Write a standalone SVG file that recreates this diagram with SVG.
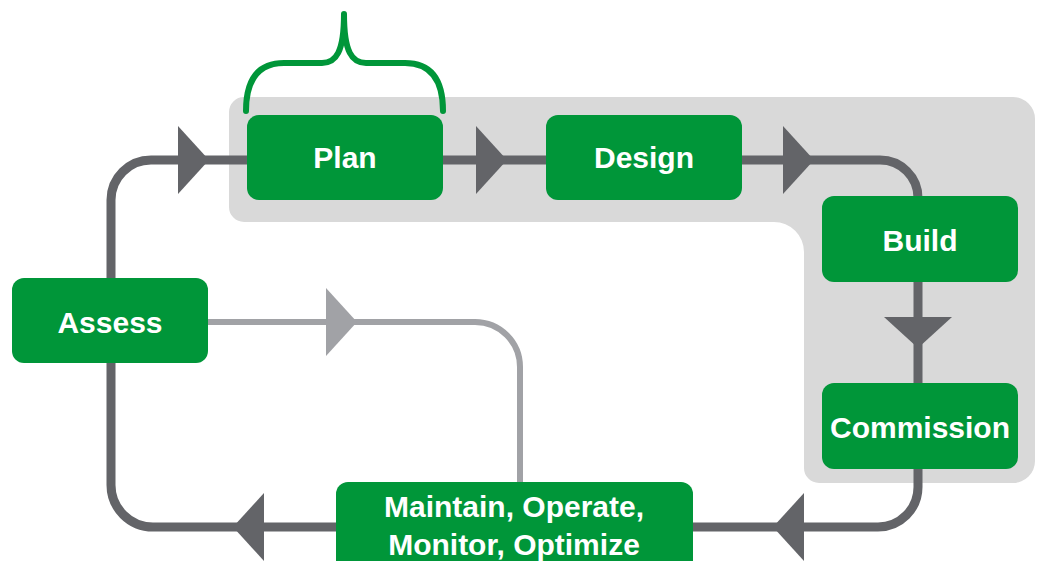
<svg xmlns="http://www.w3.org/2000/svg" width="1039" height="561" viewBox="0 0 1039 561">
  <style>
    .box { fill: #009639; }
    .lbl { font-family: "Liberation Sans", Arial, sans-serif; font-weight: bold; font-size: 30px; fill: #ffffff; text-anchor: middle; }
    .flow { fill: none; stroke: #636468; stroke-width: 9; }
    .flow-head { fill: #636468; }
    .loop { fill: none; stroke: #a1a2a6; stroke-width: 6; }
    .loop-head { fill: #a1a2a6; }
    .brace { fill: none; stroke: #009639; stroke-width: 6; stroke-linecap: round; stroke-linejoin: round; }
  </style>
  <defs>
    <!-- mid-line arrowhead, pointing right, tip at origin -->
    <polygon id="head" points="0,0 -31,-34 -31,34"/>
  </defs>

  <!-- shaded project-delivery area -->
  <path id="delivery-zone" fill="#d9d9d9" d="M244,97 H1013 A22,22 0 0 1 1035,119 V461 A22,22 0 0 1 1013,483 H819 A15,15 0 0 1 804,468 V252 A30,30 0 0 0 774,222 H244 A15,15 0 0 1 229,207 V112 A15,15 0 0 1 244,97 Z"/>

  <!-- brace over Plan -->
  <path class="brace" d="M246,111 C246,80 258,63 284,63 H322 C336,63 344,52 344,14 C344,52 352,63 366,63 H405 C431,63 443,80 443,111"/>

  <g id="connectors">
    <!-- Assess -> Plan -->
    <path class="flow" d="M111,278 V200 A40,40 0 0 1 151,160 H247"/>
    <use href="#head" class="flow-head" transform="translate(209,160)"/>
    <!-- Plan -> Design -->
    <path class="flow" d="M443,160 H546"/>
    <use href="#head" class="flow-head" transform="translate(507,160)"/>
    <!-- Design -> Build -->
    <path class="flow" d="M742,160 H880 A38,38 0 0 1 918,198 V196"/>
    <use href="#head" class="flow-head" transform="translate(814,160)"/>
    <!-- Build -> Commission -->
    <path class="flow" d="M918,282 V383"/>
    <use href="#head" class="flow-head" transform="translate(918,348) rotate(90)"/>
    <!-- Commission -> Maintain -->
    <path class="flow" d="M918,469 V487 A40,40 0 0 1 878,527 H693"/>
    <use href="#head" class="flow-head" transform="translate(773,527) rotate(180)"/>
    <!-- Maintain -> Assess -->
    <path class="flow" d="M336,527 H153 A42,42 0 0 1 111,485 V363"/>
    <use href="#head" class="flow-head" transform="translate(233,527) rotate(180)"/>
    <!-- Assess -> Maintain (feedback) -->
    <path class="loop" d="M208,322 H475 A45,45 0 0 1 520,367 V482"/>
    <use href="#head" class="loop-head" transform="translate(357,322)"/>
  </g>

  <g id="plan">
    <rect class="box" x="247" y="115" width="196" height="85" rx="12"/>
    <text class="lbl" x="345" y="168">Plan</text>
  </g>
  <g id="design">
    <rect class="box" x="546" y="115" width="196" height="85" rx="12"/>
    <text class="lbl" x="644" y="168">Design</text>
  </g>
  <g id="build">
    <rect class="box" x="822" y="196" width="196" height="86" rx="12"/>
    <text class="lbl" x="920" y="251">Build</text>
  </g>
  <g id="commission">
    <rect class="box" x="822" y="383" width="196" height="86" rx="12"/>
    <text class="lbl" x="920" y="438">Commission</text>
  </g>
  <g id="assess">
    <rect class="box" x="12" y="278" width="196" height="85" rx="12"/>
    <text class="lbl" x="110" y="333">Assess</text>
  </g>
  <g id="maintain">
    <rect class="box" x="336" y="482" width="357" height="100" rx="12"/>
    <text class="lbl" x="514" y="517">Maintain, Operate,</text>
    <text class="lbl" x="514" y="555">Monitor, Optimize</text>
  </g>
</svg>
